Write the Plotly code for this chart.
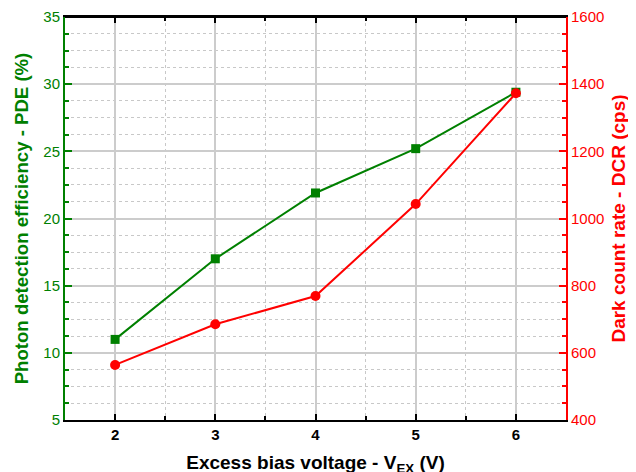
import plotly.graph_objects as go

vex = [2, 3, 4, 5, 6]
pde = [11.0, 17.0, 21.9, 25.2, 29.4]
dcr = [564, 685, 769, 1043, 1373]

GREEN = "rgb(0,128,0)"
RED = "rgb(255,0,0)"
FONT = "Liberation Sans, Arial, sans-serif"
XRANGE = [1.5, 6.5]

fig = go.Figure()
fig.add_trace(go.Scatter(x=vex, y=pde, mode="lines+markers", name="PDE",
                         line=dict(color=GREEN, width=2),
                         marker=dict(symbol="square", size=9, color=GREEN)))
fig.add_trace(go.Scatter(x=vex, y=dcr, mode="lines+markers", name="DCR",
                         xaxis="x2", yaxis="y2",
                         line=dict(color=RED, width=2),
                         marker=dict(symbol="circle", size=10, color=RED)))

fig.update_layout(
    width=636, height=472,
    margin=dict(l=57, r=78, t=9, b=60, autoexpand=False),
    paper_bgcolor="white", plot_bgcolor="white",
    showlegend=False,
    font=dict(family=FONT),
    xaxis=dict(
        range=XRANGE, dtick=1, tick0=0, automargin=True,
        showline=True, linecolor="black", linewidth=2, mirror="ticks",
        ticks="inside", ticklen=6, tickwidth=2, tickcolor="black",
        showgrid=True, gridcolor="#cccccc", gridwidth=1.5,
        zeroline=False,
        tickfont=dict(size=15, color="black", weight="bold"),
        title=dict(text="Excess bias voltage - V<sub>EX</sub> (V)",
                   font=dict(size=19, color="black", weight="bold"), standoff=14),
        minor=dict(dtick=0.5, showgrid=True, gridcolor="#c8c8c8", griddash="dot",
                   gridwidth=1, ticks="inside", ticklen=4, tickwidth=1.5, tickcolor="black"),
    ),
    xaxis2=dict(
        range=XRANGE, dtick=1, tick0=0, automargin=False,
        overlaying="x", side="top", anchor="y2",
        showline=True, linecolor="black", linewidth=2,
        ticks="inside", ticklen=6, tickwidth=2, tickcolor="black",
        showgrid=False, zeroline=False, showticklabels=False,
        minor=dict(dtick=0.5, showgrid=False, ticks="inside", ticklen=4,
                   tickwidth=1.5, tickcolor="black"),
    ),
    yaxis=dict(
        range=[5, 35], dtick=5, tick0=0, automargin=True,
        showline=True, linecolor=GREEN, linewidth=2,
        ticks="inside", ticklen=7, tickwidth=2, tickcolor=GREEN,
        showgrid=True, gridcolor="#cccccc", gridwidth=1.5,
        zeroline=False,
        tickfont=dict(size=15, color=GREEN),
        title=dict(text="Photon detection efficiency - PDE (%)",
                   font=dict(size=18.6, color=GREEN, weight="bold"), standoff=10),
        minor=dict(dtick=1.25, showgrid=True, gridcolor="#c8c8c8", griddash="dot",
                   gridwidth=1, ticks="inside", ticklen=4, tickwidth=1.5, tickcolor=GREEN),
    ),
    yaxis2=dict(
        range=[400, 1600], dtick=200, tick0=0, automargin=True,
        overlaying="y", side="right", anchor="x2",
        showline=True, linecolor=RED, linewidth=2,
        ticks="inside", ticklen=7, tickwidth=2, tickcolor=RED,
        showgrid=False, zeroline=False,
        tickfont=dict(size=15, color=RED),
        title=dict(text="Dark count rate - DCR (cps)",
                   font=dict(size=19, color=RED, weight="bold"), standoff=8),
        minor=dict(dtick=50, ticks="inside", ticklen=4, tickwidth=1.5, tickcolor=RED, showgrid=False),
    ),
    shapes=[dict(type="line", xref="paper", yref="paper", x0=0, x1=1, y0=1, y1=1,
                 line=dict(color="black", width=2), layer="above")],
)

fig.write_html("out.html")
